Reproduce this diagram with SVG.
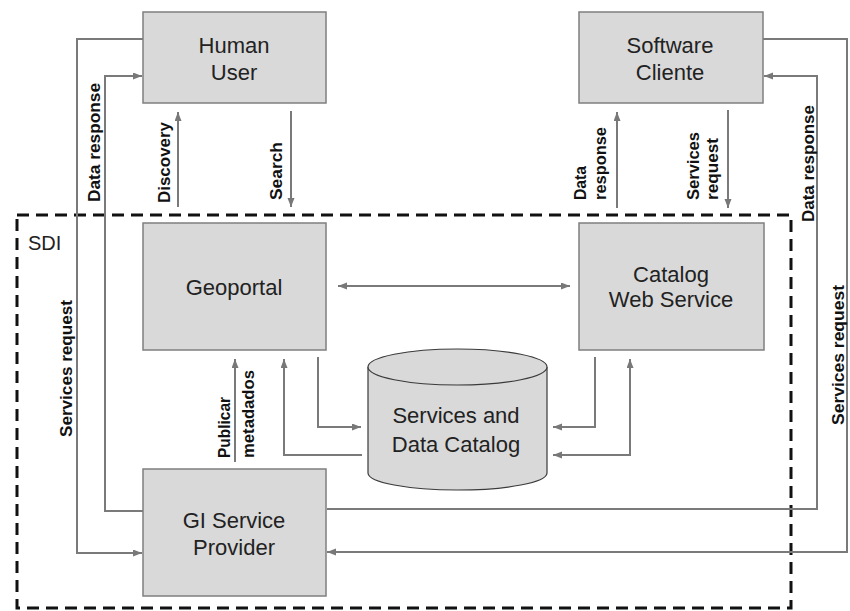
<svg xmlns="http://www.w3.org/2000/svg" width="850" height="611" viewBox="0 0 850 611">
  <defs>
    <marker id="arrow" markerUnits="userSpaceOnUse" markerWidth="10" markerHeight="8" refX="9" refY="3.5" orient="auto-start-reverse">
      <path d="M0,0 L9,3.5 L0,7 z" fill="#787878"/>
    </marker>
    <style>
      .box { fill: #d9d9d9; stroke: #7f7f7f; stroke-width: 1.5; }
      .db { fill: #d9d9d9; stroke: #3a3a3a; stroke-width: 1.2; }
      .name { font-family: "Liberation Sans", Arial, sans-serif; font-size: 22px; fill: #222; text-anchor: middle; }
      .lbl { font-family: "Liberation Sans", Arial, sans-serif; font-size: 16px; font-weight: bold; fill: #111; }
      .wire { fill: none; stroke: #7a7a7a; stroke-width: 2; }
      .end { marker-end: url(#arrow); }
      .both { marker-start: url(#arrow); marker-end: url(#arrow); }
      .sdi { fill: none; stroke: #111; stroke-width: 3; stroke-dasharray: 12 7; }
    </style>
  </defs>
  <rect width="850" height="611" fill="#fff"/>

  <!-- SDI boundary -->
  <g id="sdi">
    <rect class="sdi" x="17" y="215" width="774" height="393"/>
    <text x="28" y="250" font-family="Liberation Sans, Arial, sans-serif" font-size="20" fill="#222">SDI</text>
  </g>

  <!-- connectors -->
  <g id="connectors">
    <path class="wire end" d="M143,39 H77 V553 H142"/>
    <path class="wire end" d="M143,511 H105 V76 H142"/>
    <path class="wire end" d="M178,207 V112"/>
    <path class="wire end" d="M291,111 V207"/>
    <path class="wire end" d="M617,208 V112"/>
    <path class="wire end" d="M728,110 V208"/>
    <path class="wire end" d="M763,39 H847 V552 H327"/>
    <path class="wire end" d="M327,509 H817 V76 H764"/>
    <path class="wire both" d="M338,286 H570"/>
    <path class="wire end" d="M235,462 V359"/>
    <path class="wire end" d="M318,357 V427 H361"/>
    <path class="wire end" d="M362,455 H284 V359"/>
    <path class="wire end" d="M595,357 V427 H553"/>
    <path class="wire both" d="M553,455 H630 V359"/>

    <text class="lbl" transform="translate(72,437) rotate(-90)" textLength="137" lengthAdjust="spacingAndGlyphs">Services request</text>
    <text class="lbl" transform="translate(100,202) rotate(-90)" textLength="119" lengthAdjust="spacingAndGlyphs">Data response</text>
    <text class="lbl" transform="translate(170,203) rotate(-90)" textLength="81" lengthAdjust="spacingAndGlyphs">Discovery</text>
    <text class="lbl" transform="translate(282,200) rotate(-90)" textLength="58" lengthAdjust="spacingAndGlyphs">Search</text>
    <text class="lbl" transform="translate(586,200) rotate(-90)" textLength="34" lengthAdjust="spacingAndGlyphs">Data</text>
    <text class="lbl" transform="translate(606,200) rotate(-90)" textLength="73" lengthAdjust="spacingAndGlyphs">response</text>
    <text class="lbl" transform="translate(699,200) rotate(-90)" textLength="68" lengthAdjust="spacingAndGlyphs">Services</text>
    <text class="lbl" transform="translate(718,200) rotate(-90)" textLength="62" lengthAdjust="spacingAndGlyphs">request</text>
    <text class="lbl" transform="translate(814,222) rotate(-90)" textLength="117" lengthAdjust="spacingAndGlyphs">Data response</text>
    <text class="lbl" transform="translate(844,425) rotate(-90)" textLength="140" lengthAdjust="spacingAndGlyphs">Services request</text>
    <text class="lbl" transform="translate(230,458) rotate(-90)" textLength="61" lengthAdjust="spacingAndGlyphs">Publicar</text>
    <text class="lbl" transform="translate(254,458) rotate(-90)" textLength="88" lengthAdjust="spacingAndGlyphs">metadados</text>
  </g>

  <g id="human-user">
    <rect class="box" x="143" y="12" width="183" height="91"/>
    <text class="name" x="234" y="53">Human</text>
    <text class="name" x="234" y="80">User</text>
  </g>

  <g id="software-cliente">
    <rect class="box" x="579" y="12" width="184" height="91"/>
    <text class="name" x="670" y="53">Software</text>
    <text class="name" x="670" y="80">Cliente</text>
  </g>

  <g id="geoportal">
    <rect class="box" x="143" y="223" width="183" height="127"/>
    <text class="name" x="234" y="295">Geoportal</text>
  </g>

  <g id="catalog-web-service">
    <rect class="box" x="579" y="223" width="185" height="127"/>
    <text class="name" x="671" y="282">Catalog</text>
    <text class="name" x="671" y="307">Web Service</text>
  </g>

  <g id="data-catalog">
    <path class="db" d="M368,367 V473 A89.5,17 0 0 0 547,473 V367"/>
    <ellipse class="db" cx="457.5" cy="367" rx="89.5" ry="18"/>
    <text class="name" x="456" y="423">Services and</text>
    <text class="name" x="456" y="452">Data Catalog</text>
  </g>

  <g id="gi-service-provider">
    <rect class="box" x="143" y="469" width="183" height="127"/>
    <text class="name" x="234" y="528">GI Service</text>
    <text class="name" x="234" y="555">Provider</text>
  </g>
</svg>
